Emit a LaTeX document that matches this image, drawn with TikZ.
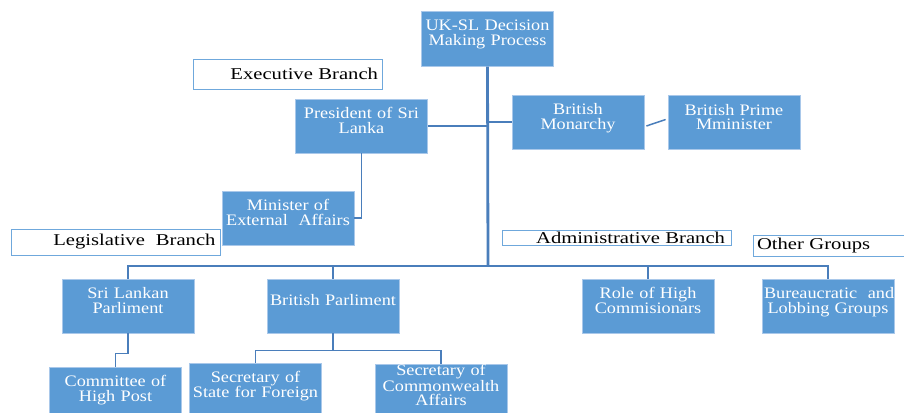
\documentclass[tikz,border=0pt]{standalone}
\usepackage{fontspec}
\setmainfont{Liberation Serif}
\newfontfamily\boxfont{Liberation Serif}[FakeStretch=1.14]
\newfontfamily\labelfont{Liberation Serif}[FakeStretch=1.25]
\usetikzlibrary{calc}
\definecolor{boxblue}{HTML}{5B9BD5}
\definecolor{boxedge}{HTML}{A9C8EA}
\definecolor{linkblue}{HTML}{4A7EBB}
\definecolor{labeledge}{HTML}{6FA8DC}
\tikzset{
  orgbox/.style={rectangle, fill=boxblue, draw=boxedge, line width=0.8pt,
    minimum width=132pt, minimum height=54pt, text width=128pt,
    inner xsep=2pt, inner ysep=0pt, align=center, text=white,
    font=\boxfont\fontsize{16}{14.5}\selectfont,
    execute at end node={\rule[-11.5pt]{0pt}{11.5pt}}},
  branchlabel/.style={rectangle, fill=white, draw=labeledge, line width=0.8pt,
    inner ysep=0pt, text=black,
    font=\labelfont\fontsize{16.5}{15}\selectfont},
  link/.style={draw=linkblue, line width=1.5pt},
  trunk/.style={draw=linkblue, line width=2.8pt}
}
\begin{document}
\begin{tikzpicture}[x=1pt,y=-1pt]
\useasboundingbox (0,0) rectangle (904,412);
\clip (0,0) rectangle (904,412);
% boxes
\node[orgbox, minimum height=55pt] (top) at (487.5,38.7) {UK-SL Decision\\Making Process};
\node[orgbox] (pres) at (361.5,126) {President of Sri\\Lanka};
\node[orgbox] (mon) at (578,122) {British\\Monarchy};
\node[orgbox] (pm) at (734,122.5) {British Prime\\Mminister};
\node[orgbox] (min) at (288,218) {Minister of\\External~ Affairs};
\node[orgbox] (slp) at (128,306) {Sri Lankan\\Parliment};
\node[orgbox] (bp) at (333,306) {British Parliment};
\node[orgbox] (rhc) at (648,306) {Role of High\\Commisionars};
\node[orgbox] (bur) at (828,306) {Bureaucratic~ and\\Lobbing Groups};
\node[orgbox] (com) at (115.5,394) {Committee of\\High Post};
\node[orgbox] (ssf) at (255.5,390) {Secretary of\\State for Foreign};
\node[orgbox] (sca) at (441,391) {Secretary of\\Commonwealth\\Affairs};
% labels
\node[branchlabel, minimum width=189pt, minimum height=30pt, text width=181pt, inner xsep=4pt, align=right] (exec) at (287.5,74) {Executive Branch};
\node[branchlabel, minimum width=209pt, minimum height=26pt, text width=200pt, inner xsep=4.5pt, align=right] (leg) at (115.5,242) {Legislative~ Branch};
\node[branchlabel, minimum width=229pt, minimum height=15pt, text width=217pt, inner xsep=6pt, align=right] (adm) at (616.5,237.5) {Administrative Branch};
\node[branchlabel, minimum width=157pt, minimum height=21pt, text width=149pt, inner xsep=4pt, align=left] (oth) at (831.5,245.5) {Other Groups};
% connectors
\coordinate (trunkbot) at (488,266);
\draw[trunk] (top.south) -- (trunkbot);
\draw[link] (pres.east) -- (pres.east -| trunkbot);
\draw[link] (mon.west) -- (mon.west -| trunkbot);
\draw[link] ($(mon.east)+(2,4)$) -- ($(pm.west)+(-2,-3)$);
\draw[link] (pres.south) |- (min.east);
\draw[link] (slp.north) |- (trunkbot) -| (bur.north);
\draw[link] (bp.north) -- (bp.north |- trunkbot);
\draw[link] (rhc.north) -- (rhc.north |- trunkbot);
\draw[link] (slp.south) -- ++(0,20) -| (com.north);
\draw[link] (bp.south) -- ++(0,17) coordinate (bpk);
\draw[link] (ssf.north) |- (bpk) -| (sca.north);
\end{tikzpicture}
\end{document}
